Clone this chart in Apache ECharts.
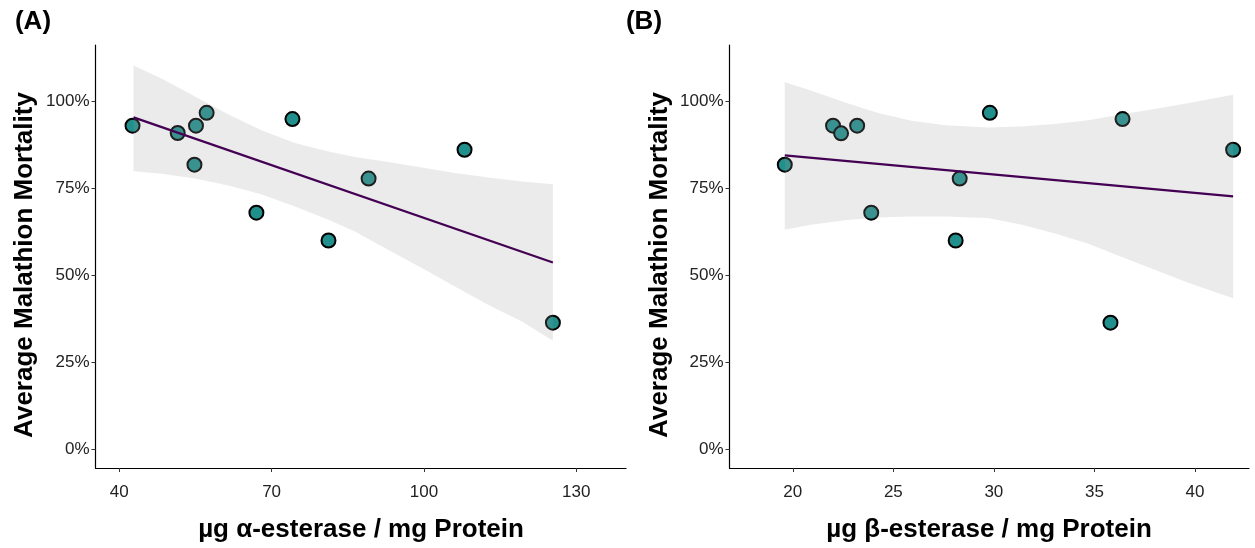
<!DOCTYPE html>
<html>
<head>
<meta charset="utf-8">
<script src="https://cdn.jsdelivr.net/npm/echarts@6/dist/echarts.min.js"></script>
<style>
  html, body { margin: 0; padding: 0; background: #fff; }
  #chart { width: 1255px; height: 548px; }
</style>
</head>
<body>
<div id="chart"></div>
<script>
// panel A: alpha-esterase vs mortality (%)
const alphaX = [42.6, 51.5, 55.1, 57.2, 54.8, 67.0, 74.1, 81.2, 89.1, 108.0, 125.4];
const alphaY = [93.0, 90.9, 93.0, 96.7, 81.8, 68.0, 94.9, 60.0, 77.8, 86.1, 36.4];
const alphaFitX = [42.8, 125.4];
const alphaFitY = [95.4, 53.7];
const alphaBandX = [42.8, 48.4, 54.9, 61.5, 68.1, 74.6, 81.2, 86.4, 93.0, 99.6, 106.1, 112.7, 119.3, 125.4];
const alphaBandHi = [110.3, 106.5, 101.4, 96.2, 91.6, 88.0, 85.6, 84.0, 82.6, 81.0, 79.4, 78.1, 77.0, 76.2];
const alphaBandLo = [79.9, 79.2, 77.8, 75.8, 73.2, 69.8, 66.0, 62.6, 57.3, 52.1, 46.8, 41.5, 36.7, 31.2];

// panel B: beta-esterase vs mortality (%)
const betaX = [19.6, 22.0, 22.4, 23.2, 23.9, 28.3, 28.1, 29.8, 36.4, 41.9, 35.8];
const betaY = [81.8, 93.0, 90.8, 93.0, 68.0, 77.8, 60.0, 96.7, 94.9, 86.1, 36.4];
const betaFitX = [19.6, 41.9];
const betaFitY = [84.5, 72.7];
const betaBandX = [19.6, 20.9, 22.6, 24.2, 25.9, 27.6, 29.7, 31.4, 33.0, 34.7, 36.3, 38.0, 39.7, 41.9];
const betaBandHi = [105.5, 103.1, 99.7, 96.7, 94.4, 93.1, 92.5, 92.8, 93.5, 94.6, 96.2, 97.8, 99.5, 101.9];
const betaBandLo = [63.1, 64.5, 65.8, 66.6, 66.9, 66.9, 66.5, 64.5, 62.1, 59.1, 55.4, 51.6, 47.8, 43.4];

const alphaTicks = [40, 70, 100, 130];
const betaTicks = [20, 25, 30, 35, 40];
const yTicks = [0, 25, 50, 75, 100];

const FONT = "Liberation Sans";
const pointColor = "#21908C";
const fitColor = "#440154";

const chart = echarts.init(document.getElementById("chart"), null, { renderer: "canvas" });

function xAxis(gridIndex, min, max, ticks) {
  return {
    type: "value", gridIndex, min, max,
    splitLine: { show: false },
    axisLine: { onZero: false, lineStyle: { color: "#000", width: 1.2 } },
    axisTick: { customValues: ticks, length: 4, lineStyle: { color: "#333" } },
    axisLabel: { customValues: ticks, margin: 16, color: "#222", fontFamily: FONT, fontSize: 17 }
  };
}

function yAxis(gridIndex) {
  return {
    type: "value", gridIndex, min: -5.38, max: 116.2,
    splitLine: { show: false },
    axisLine: { show: true, onZero: false, lineStyle: { color: "#000", width: 1.2 } },
    axisTick: { show: true, customValues: yTicks, length: 4, lineStyle: { color: "#333" } },
    axisLabel: { customValues: yTicks, margin: 6, color: "#222", fontFamily: FONT, fontSize: 17, formatter: v => v + "%" }
  };
}

function band(index, xs, hi, lo) {
  return {
    type: "custom", xAxisIndex: index, yAxisIndex: index, z: 3, silent: true,
    data: [[xs[0], lo[0]]],
    renderItem: (params, api) => {
      const pts = [];
      xs.forEach((x, i) => pts.push(api.coord([x, hi[i]])));
      for (let i = xs.length - 1; i >= 0; i--) pts.push(api.coord([xs[i], lo[i]]));
      return { type: "polygon", shape: { points: pts }, style: { fill: "rgba(153,153,153,0.2)" } };
    }
  };
}

function scatter(index, xs, ys) {
  return {
    type: "scatter", xAxisIndex: index, yAxisIndex: index, z: 2,
    symbolSize: 14,
    itemStyle: { color: pointColor, borderColor: "#000", borderWidth: 2, opacity: 1 },
    data: xs.map((x, i) => [x, ys[i]])
  };
}

function fit(index, xs, ys) {
  return {
    type: "line", xAxisIndex: index, yAxisIndex: index, z: 4,
    symbol: "none",
    lineStyle: { color: fitColor, width: 2.2 },
    data: xs.map((x, i) => [x, ys[i]])
  };
}

function title(text, x, y, rotate) {
  return {
    type: "text", x, y, rotation: rotate ? Math.PI / 2 : 0,
    style: {
      text, fill: "#000", font: `bold 26px "${FONT}"`,
      textAlign: "center", textVerticalAlign: "middle"
    }
  };
}

chart.setOption({
  animation: false,
  grid: [
    { left: 95.5, top: 45, width: 530.5, height: 423 },
    { left: 729.5, top: 45, width: 519.5, height: 423 }
  ],
  xAxis: [xAxis(0, 35.31, 139.8, alphaTicks), xAxis(1, 16.85, 42.69, betaTicks)],
  yAxis: [yAxis(0), yAxis(1)],
  series: [
    scatter(0, alphaX, alphaY),
    band(0, alphaBandX, alphaBandHi, alphaBandLo),
    fit(0, alphaFitX, alphaFitY),
    scatter(1, betaX, betaY),
    band(1, betaBandX, betaBandHi, betaBandLo),
    fit(1, betaFitX, betaFitY)
  ],
  graphic: [
    title("(A)", 33, 22, false),
    title("(B)", 644, 22, false),
    title("Average Malathion Mortality", 25, 265, true),
    title("Average Malathion Mortality", 660, 265, true),
    title("µg α-esterase / mg Protein", 361, 530, false),
    title("µg β-esterase / mg Protein", 989, 530, false)
  ]
});
</script>
</body>
</html>
